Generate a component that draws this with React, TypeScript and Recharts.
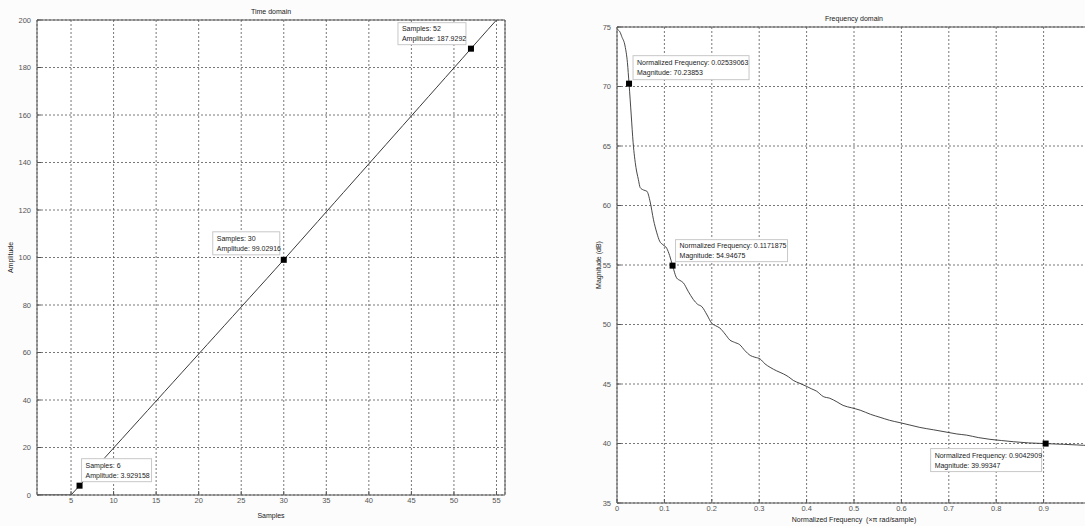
import React from "react";
import {
    ComposedChart,
    Line,
    Scatter,
    XAxis,
    YAxis,
    CartesianGrid,
    ReferenceLine
} from "recharts";

// time domain: sample index / amplitude
const samples = [1, 2, 3, 4, 5, 6, 7, 8, 9, 10, 11, 12, 13, 14, 15, 16, 17, 18, 19, 20, 21, 22, 23, 24, 25, 26, 27, 28, 29, 30, 31, 32, 33, 34, 35, 36, 37, 38, 39, 40, 41, 42, 43, 44, 45, 46, 47, 48, 49, 50, 51, 52, 53, 54, 55];
const amplitude = [0, 0, 0, 0, 0, 3.93, 7.89, 11.85, 15.81, 19.77, 23.73, 27.69, 31.65, 35.61, 39.57, 43.53, 47.49, 51.45, 55.41, 59.37, 63.33, 67.29, 71.25, 75.21, 79.17, 83.13, 87.09, 91.05, 95.04, 99.03, 103.07, 107.11, 111.15, 115.19, 119.23, 123.27, 127.31, 131.35, 135.39, 139.43, 143.47, 147.51, 151.55, 155.59, 159.63, 163.67, 167.71, 171.75, 175.79, 179.83, 183.87, 187.93, 191.97, 196.01, 200];
const sampleTicks = [5, 10, 15, 20, 25, 30, 35, 40, 45, 50, 55];
const ampTicks = [0, 20, 40, 60, 80, 100, 120, 140, 160, 180, 200];

// frequency domain: normalized frequency / magnitude (dB)
const freq = [0, 0.006, 0.01, 0.017, 0.022, 0.0254, 0.03, 0.034, 0.04, 0.045, 0.049, 0.056, 0.063, 0.07, 0.077, 0.084, 0.09, 0.097, 0.105, 0.111, 0.1172, 0.126, 0.133, 0.14, 0.15, 0.161, 0.17, 0.179, 0.19, 0.2, 0.208, 0.217, 0.228, 0.238, 0.248, 0.259, 0.27, 0.281, 0.291, 0.302, 0.312, 0.323, 0.337, 0.351, 0.362, 0.372, 0.386, 0.4, 0.41, 0.421, 0.435, 0.449, 0.464, 0.477, 0.495, 0.513, 0.535, 0.555, 0.575, 0.597, 0.618, 0.639, 0.668, 0.696, 0.717, 0.738, 0.762, 0.787, 0.811, 0.836, 0.868, 0.9043, 0.942, 0.97, 0.984, 0.998];
const magnitude = [74.8, 74.6, 74.2, 73.4, 72.0, 70.24, 67.6, 65.3, 63.2, 62.2, 61.5, 61.3, 61.2, 60.3, 58.8, 57.7, 57.0, 56.7, 56.4, 55.8, 54.95, 53.9, 53.7, 53.5, 52.8, 52.1, 51.7, 51.5, 50.8, 50.1, 49.9, 49.7, 49.2, 48.7, 48.5, 48.3, 47.8, 47.4, 47.25, 47.1, 46.7, 46.4, 46.1, 45.85, 45.6, 45.3, 45.05, 44.8, 44.6, 44.4, 43.95, 43.8, 43.5, 43.2, 43.0, 42.8, 42.45, 42.2, 41.95, 41.75, 41.55, 41.35, 41.15, 40.95, 40.8, 40.7, 40.5, 40.35, 40.25, 40.15, 40.05, 39.99, 39.93, 39.88, 39.85, 39.84];
const freqTicks = [0, 0.1, 0.2, 0.3, 0.4, 0.5, 0.6, 0.7, 0.8, 0.9];
const magTicks = [35, 40, 45, 50, 55, 60, 65, 70, 75];

// data tips
const timeTipX = [6, 30, 52];
const timeTipY = [3.929158, 99.02916, 187.9292];
const freqTipX = [0.02539063, 0.1171875, 0.9042909];
const freqTipY = [70.23853, 54.94675, 39.99347];

// where each tip box sits relative to its marker
const TIME_BOXES = [
    { dx: 2, dy: -27, w: 70, h: 23 },
    { dx: -71, dy: -28, w: 67, h: 23 },
    { dx: -73, dy: -26, w: 68, h: 22 },
];
const FREQ_BOXES = [
    { dx: 4, dy: -28, w: 116, h: 24 },
    { dx: 3, dy: -26, w: 112, h: 22 },
    { dx: -115, dy: 5, w: 111, h: 23 },
];

const timeData = samples.map((x, i) => ({ x, y: amplitude[i] }));
const freqData = freq.map((x, i) => ({ x, y: magnitude[i] }));
const timeTips = timeTipX.map((x, i) => ({ x, y: timeTipY[i] }));
const freqTips = freqTipX.map((x, i) => ({ x, y: freqTipY[i] }));

const FONT = "'Liberation Sans', Arial, sans-serif";
const tickStyle = { fontSize: 7.5, fill: "#555", fontFamily: FONT };

function AxisTitle(props: any) {
    const { viewBox, value, cx, cy, vertical } = props;
    const x = cx !== undefined ? cx : viewBox.x + viewBox.width / 2;
    const y = cy !== undefined ? cy : viewBox.y + viewBox.height / 2;
    return (
        <text
            x={x}
            y={y}
            transform={vertical ? `rotate(-90 ${x} ${y})` : undefined}
            textAnchor="middle"
            dominantBaseline="central"
            fontSize={7}
            fontFamily={FONT}
            fill="#222"
            style={{ whiteSpace: "pre" }}
        >
            {value}
        </text>
    );
}

function makeTip(boxes: any[], xs: number[], xName: string, yName: string) {
    return (p: any) => {
        const { cx, cy, payload } = p;
        const i = xs.indexOf(payload.x);
        const b = boxes[i < 0 ? 0 : i];
        const bx = cx + b.dx;
        const by = cy + b.dy;
        return (
            <g>
                <rect x={bx} y={by} width={b.w} height={b.h} fill="#fff" stroke="#c8c8c8" strokeWidth={1} />
                <text x={bx + 4} y={by + b.h / 2 - 5} dominantBaseline="central" fontSize={7} fontFamily={FONT} fill="#222">
                    {`${xName}: ${payload.x}`}
                </text>
                <text x={bx + 4} y={by + b.h / 2 + 5} dominantBaseline="central" fontSize={7} fontFamily={FONT} fill="#222">
                    {`${yName}: ${payload.y}`}
                </text>
                <rect x={cx - 3} y={cy - 3} width={6} height={6} fill="#000" />
            </g>
        );
    };
}

function TimeChart() {
    return (
        <ComposedChart width={540} height={526} margin={{ top: 20, right: 35, bottom: 0, left: 0 }}>
            <CartesianGrid fill="#fff" stroke="#555" strokeDasharray="2 2" strokeWidth={0.8} />
            <XAxis
                dataKey="x"
                type="number"
                domain={[1, 56]}
                ticks={sampleTicks}
                allowDataOverflow
                height={31}
                stroke="#555"
                tickSize={-4}
                tickMargin={7}
                tick={tickStyle}
                label={<AxisTitle value="Samples" cy={515} />}
            />
            <YAxis
                dataKey="y"
                type="number"
                domain={[0, 200]}
                ticks={ampTicks}
                allowDataOverflow
                width={37}
                stroke="#555"
                tickSize={-4}
                tickMargin={10}
                tick={tickStyle}
                label={<AxisTitle value="Amplitude" cx={10} vertical />}
            />
            <ReferenceLine y={200} stroke="#555" label={<AxisTitle value="Time domain" cy={11} />} />
            <ReferenceLine x={56} stroke="#555" />
            <Line data={timeData} dataKey="y" type="linear" stroke="#3a3a3a" strokeWidth={1} dot={false} activeDot={false} isAnimationActive={false} />
            <Scatter data={timeTips} dataKey="y" isAnimationActive={false} shape={makeTip(TIME_BOXES, timeTipX, "Samples", "Amplitude")} />
        </ComposedChart>
    );
}

function FreqChart() {
    return (
        <ComposedChart width={560} height={526} margin={{ top: 27, right: 9, bottom: 0, left: 0 }}>
            <CartesianGrid fill="#fff" stroke="#555" strokeDasharray="2 2" strokeWidth={0.8} />
            <XAxis
                dataKey="x"
                type="number"
                domain={[0, 1]}
                ticks={freqTicks}
                allowDataOverflow
                height={23}
                stroke="#555"
                tickSize={-4}
                tickMargin={7}
                tick={tickStyle}
                label={<AxisTitle value="Normalized Frequency  (×π rad/sample)" cy={519} />}
            />
            <YAxis
                dataKey="y"
                type="number"
                domain={[35, 75]}
                ticks={magTicks}
                allowDataOverflow
                width={77}
                stroke="#555"
                tickSize={-4}
                tickMargin={10}
                tick={tickStyle}
                label={<AxisTitle value="Magnitude (dB)" cx={58} vertical />}
            />
            <ReferenceLine y={75} stroke="#555" label={<AxisTitle value="Frequency domain" cy={18} />} />
            <Line data={freqData} dataKey="y" type="monotone" stroke="#333" strokeWidth={0.9} dot={false} activeDot={false} isAnimationActive={false} />
            <Scatter data={freqTips} dataKey="y" isAnimationActive={false} shape={makeTip(FREQ_BOXES, freqTipX, "Normalized Frequency", "Magnitude")} />
        </ComposedChart>
    );
}

export default function App() {
    return (
        <div style={{ position: "absolute", left: 0, top: 0, width: 1085, height: 526, overflow: "hidden", background: "#fcfcfc" }}>
            <div style={{ position: "absolute", left: 0, top: 0 }}>
                <TimeChart />
            </div>
            <div style={{ position: "absolute", left: 540, top: 0 }}>
                <FreqChart />
            </div>
        </div>
    );
}
